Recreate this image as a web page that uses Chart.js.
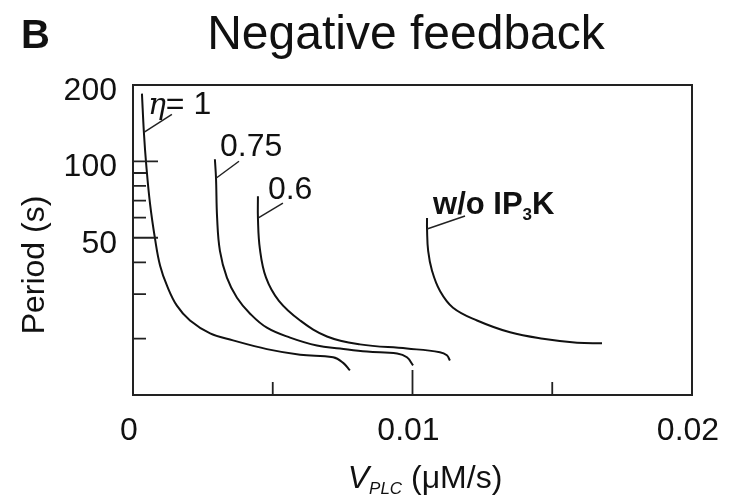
<!DOCTYPE html>
<html>
<head>
<meta charset="utf-8">
<script src="https://cdn.jsdelivr.net/npm/chart.js@4.4.1/dist/chart.umd.min.js"></script>
<style>
  html, body { margin: 0; padding: 0; background: #fff; }
  #wrap { width: 729px; height: 497px; position: relative; }
</style>
</head>
<body>
<div id="wrap"><canvas id="periodChart"></canvas></div>
<script>
// oscillation period (s) against V_PLC (uM/s), one pair of arrays per curve
const vplcEta1 = [0.00032, 0.00039, 0.00047, 0.00061, 0.00079, 0.00097, 0.00122, 0.00157, 0.00204, 0.00276, 0.00358, 0.00479, 0.00598, 0.00716, 0.00751, 0.00776];
const periodEta1 = [185, 130, 98, 68, 49.4, 38.8, 32.3, 27.0, 23.6, 21.0, 19.7, 18.2, 17.3, 16.9, 16.1, 15.0];

const vplcEta075 = [0.00293, 0.00297, 0.00301, 0.00311, 0.00336, 0.00372, 0.00419, 0.00479, 0.00562, 0.00658, 0.00741, 0.00837, 0.00945, 0.00980, 0.01002];
const periodEta075 = [102, 85.8, 59.8, 44.4, 34.8, 29.0, 25.1, 22.1, 20.2, 18.8, 18.3, 17.8, 17.5, 16.9, 15.7];

const vplcEta06 = [0.00447, 0.00447, 0.00454, 0.00476, 0.00522, 0.00598, 0.00694, 0.00812, 0.00980, 0.01098, 0.01123, 0.01134];
const periodEta06 = [72.9, 59.8, 45.2, 34.8, 28.2, 23.6, 20.4, 19.0, 18.3, 17.7, 17.2, 16.4];

const vplcNoKinase = [0.01052, 0.01052, 0.01056, 0.01070, 0.01098, 0.01145, 0.01231, 0.01349, 0.01467, 0.01589, 0.01678];
const periodNoKinase = [59.8, 54.1, 44.4, 37.0, 30.9, 26.5, 23.6, 21.2, 20.0, 19.3, 19.2];

// axes
const xTickValues = [0, 0.01, 0.02];
const xMajorMarks = [0.01];
const xMinorMarks = [0.005, 0.015];
const yTickValues = [200, 100, 50];
const yMajorMarks = [100, 50];
const yMinorMarks = [90, 80, 70, 60, 40, 30, 20];

const SANS = '"Liberation Sans", Arial, Helvetica, sans-serif';
Chart.defaults.font.family = SANS;
Chart.defaults.color = '#111';

function pairs(xs, ys) {
  return xs.map((x, i) => ({ x: x, y: ys[i] }));
}

function curve(xs, ys) {
  return {
    data: pairs(xs, ys),
    borderColor: '#111',
    borderWidth: 2,
    pointRadius: 0,
    tension: 0.4,
    fill: false
  };
}

// curve labels: leader (dx, dy) from a point on the curve, text offset from the leader end
const curveLabels = [
  { ds: 0, pt: 1, dx: 28, dy: -18, tx: 4, ty: 0, runs: [
    { text: 'η', font: 'italic 30px "DejaVu Serif", serif' },
    { text: '= 1', font: '32px ' + SANS }
  ] },
  { ds: 1, pt: 1, dx: 23, dy: -17, tx: 4, ty: -5, runs: [
    { text: '0.75', font: '32px ' + SANS }
  ] },
  { ds: 2, pt: 1, dx: 25, dy: -15, tx: 10, ty: -4, runs: [
    { text: '0.6', font: '32px ' + SANS }
  ] },
  { ds: 3, pt: 1, dx: 38, dy: -13, tx: 6, ty: -2, runs: [
    { text: 'w/o IP', font: 'bold 31px ' + SANS },
    { text: '3', font: 'bold 17px ' + SANS, dy: 6 },
    { text: 'K', font: 'bold 31px ' + SANS }
  ] }
];

function runsWidth(ctx, runs) {
  let w = 0;
  runs.forEach(r => { ctx.font = r.font; w += ctx.measureText(r.text).width; });
  return w;
}

function drawRuns(ctx, runs, x, y) {
  ctx.textAlign = 'left';
  ctx.textBaseline = 'alphabetic';
  runs.forEach(r => {
    ctx.font = r.font;
    ctx.fillText(r.text, x, y + (r.dy || 0));
    x += ctx.measureText(r.text).width;
  });
}

const framePlugin = {
  id: 'frame',
  afterDatasetsDraw(chart) {
    const ctx = chart.ctx;
    const area = chart.chartArea;
    const xs = chart.scales.x;
    const ys = chart.scales.y;
    ctx.save();

    // box
    ctx.strokeStyle = '#222';
    ctx.lineWidth = 2;
    ctx.strokeRect(area.left, area.top, area.right - area.left, area.bottom - area.top);

    // inward tick marks
    ctx.lineWidth = 1.8;
    ctx.beginPath();
    yMajorMarks.forEach(v => { const p = ys.getPixelForValue(v); ctx.moveTo(area.left, p); ctx.lineTo(area.left + 25, p); });
    yMinorMarks.forEach(v => { const p = ys.getPixelForValue(v); ctx.moveTo(area.left, p); ctx.lineTo(area.left + 13, p); });
    xMajorMarks.forEach(v => { const p = xs.getPixelForValue(v); ctx.moveTo(p, area.bottom); ctx.lineTo(p, area.bottom - 25); });
    xMinorMarks.forEach(v => { const p = xs.getPixelForValue(v); ctx.moveTo(p, area.bottom); ctx.lineTo(p, area.bottom - 13); });
    ctx.stroke();

    // curve labels with leaders
    ctx.fillStyle = '#111';
    ctx.lineWidth = 1.5;
    curveLabels.forEach(l => {
      const pt = chart.getDatasetMeta(l.ds).data[l.pt];
      ctx.beginPath();
      ctx.moveTo(pt.x, pt.y);
      ctx.lineTo(pt.x + l.dx, pt.y + l.dy);
      ctx.stroke();
      drawRuns(ctx, l.runs, pt.x + l.tx, pt.y + l.dy + l.ty);
    });

    // panel letter and title
    ctx.font = 'bold 40px ' + SANS;
    ctx.fillText('B', 21, 48);
    ctx.font = '48px ' + SANS;
    ctx.textAlign = 'center';
    ctx.fillText('Negative feedback', 406, 49);

    // x axis title
    const xTitle = [
      { text: 'V', font: 'italic 32px ' + SANS },
      { text: 'PLC', font: 'italic 17px ' + SANS, dy: 6 },
      { text: ' (μM/s)', font: '32px ' + SANS }
    ];
    const w = runsWidth(ctx, xTitle);
    drawRuns(ctx, xTitle, 425 - w / 2, 488);

    // y axis title
    ctx.translate(44, 265);
    ctx.rotate(-Math.PI / 2);
    ctx.font = '32px ' + SANS;
    ctx.textAlign = 'center';
    ctx.fillText('Period (s)', 0, 0);
    ctx.restore();
  }
};

new Chart(document.getElementById('periodChart'), {
  type: 'line',
  data: {
    datasets: [
      curve(vplcEta1, periodEta1),
      curve(vplcEta075, periodEta075),
      curve(vplcEta06, periodEta06),
      curve(vplcNoKinase, periodNoKinase)
    ]
  },
  options: {
    responsive: true,
    maintainAspectRatio: false,
    animation: false,
    layout: { padding: { top: 85, right: 37, left: 0, bottom: 0 } },
    plugins: {
      legend: { display: false },
      tooltip: { enabled: false }
    },
    scales: {
      x: {
        type: 'linear',
        min: 0,
        max: 0.02,
        afterBuildTicks: s => { s.ticks = xTickValues.map(v => ({ value: v })); },
        afterFit: s => { s.height = 102; s.paddingLeft = 0; s.paddingRight = 0; },
        grid: { display: false, drawTicks: false },
        border: { display: false },
        ticks: {
          font: { size: 32 },
          padding: 17,
          labelOffset: -4,
          maxRotation: 0,
          callback: v => String(v)
        }
      },
      y: {
        type: 'logarithmic',
        min: 12,
        max: 200,
        afterBuildTicks: s => { s.ticks = yTickValues.map(v => ({ value: v })); },
        afterFit: s => { s.width = 133; s.paddingTop = 0; s.paddingBottom = 0; },
        grid: { display: false, drawTicks: false },
        border: { display: false },
        ticks: {
          font: { size: 32 },
          padding: 16,
          labelOffset: 6,
          callback: v => String(v)
        }
      }
    }
  },
  plugins: [framePlugin]
});
</script>
</body>
</html>
